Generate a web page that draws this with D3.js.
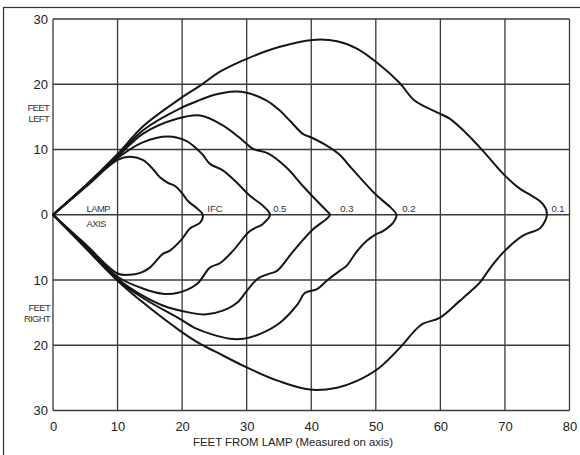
<!DOCTYPE html>
<html>
<head>
<meta charset="utf-8">
<script src="https://cdn.jsdelivr.net/npm/d3@7"></script>
<style>
  html, body { margin: 0; padding: 0; background: #fff; }
  svg { display: block; font-family: "Liberation Sans", Arial, Helvetica, sans-serif; }
</style>
</head>
<body>
<svg id="chart" width="580" height="455"></svg>
<script>
// ---- data (feet) ----
const xTicks = [0, 10, 20, 30, 40, 50, 60, 70, 80];
const yTicks = [-30, -20, -10, 0, 10, 20, 30];

// each outline: from lamp, along left side (positive), around tip, back along right side (negative)
const curveIFC = [[0,0],[5,4.2],[10,8.4],[11.9,8.9],[13.9,8.4],[15.3,7.2],[16.6,5.7],[17.8,4.9],[18.9,4.4],[20.0,3.3],[20.9,2.1],[22.4,0.9],[23.2,0],
  [22.8,-1.2],[21.2,-2.1],[20.0,-3.7],[18.1,-5.5],[17.0,-6.0],[15.0,-8.1],[13.5,-8.9],[11.9,-9.2],[10,-9.0],[5,-4.5],[0,0]];
const curve05 = [[0,0],[5,4.3],[10,8.7],[13.9,11.1],[17.8,12.0],[20.7,11.3],[23.1,9.3],[24.3,7.8],[26.3,6.8],[28.5,4.9],[30.5,2.9],[32.5,1.4],[33.6,0],
  [32.5,-1.4],[30.5,-2.5],[27.9,-5.5],[25.9,-7.4],[24.3,-8.1],[22.3,-10.6],[19.2,-12.0],[17.0,-12.1],[13.9,-11.3],[10,-9.5],[5,-4.75],[0,0]];
const curve03 = [[0,0],[5,4.35],[10,8.9],[13.9,12.4],[19.2,14.7],[22.8,15.2],[26.3,13.7],[28.9,11.8],[31.0,10.1],[33.3,9.4],[36.2,7.2],[38.7,4.4],[40.9,2.1],[42.4,0.6],[42.9,0],
  [42.4,-0.6],[40.2,-2.3],[37.2,-5.6],[34.7,-8.6],[33.3,-9.1],[31.7,-9.8],[30.0,-11.7],[28.5,-13.5],[26.3,-14.7],[23.5,-15.3],[21.2,-15.0],[17.0,-13.9],[13.9,-12.4],[10,-9.8],[5,-4.9],[0,0]];
const curve02 = [[0,0],[5,4.4],[10,9.1],[14,13.0],[19.7,16.3],[22.8,17.6],[25,18.4],[28.2,18.9],[30,18.7],[33.1,17.5],[35.1,16.0],[36.7,14.4],[38.7,12.4],[40.1,11.8],[42.4,10.6],[44.4,9.2],[46,7.4],[48,5.2],[50.2,2.9],[52.2,1.2],[53.2,0],
  [52.7,-1.2],[51.1,-2.5],[50.0,-3.0],[48.6,-4.0],[47,-5.7],[45.5,-7.8],[44.4,-8.6],[42.4,-10.1],[40.9,-11.4],[39.0,-12.0],[37.9,-13.7],[35.1,-16.6],[32,-18.3],[29.5,-19.0],[27.4,-19.0],[24.5,-18.3],[22.3,-17.5],[19.7,-16.0],[14,-12.8],[10,-10.0],[5,-5.0],[0,0]];
const curve01 = [[0,0],[5,4.45],[10,9.3],[14,13.6],[19.7,17.8],[22.8,19.8],[26,22.0],[30,23.9],[35,25.7],[40.2,26.8],[44,26.6],[47,25.5],[50.2,23.3],[53.7,20.2],[56,17.5],[59.9,15.5],[61.5,14.7],[64,12.5],[66.6,9.8],[69.7,6.3],[72.3,4.0],[74,3.0],[75.4,2.1],[76.3,1.0],[76.5,0],
  [76.2,-1.0],[75.4,-2.1],[72.8,-3.2],[70,-5.5],[68,-7.8],[66.1,-10.4],[65.3,-11.2],[63,-13.2],[59.9,-15.8],[57.3,-16.7],[56,-17.8],[54,-20.1],[50.6,-23.4],[47,-25.5],[44,-26.5],[39.8,-26.8],[35,-25.5],[30,-23.4],[25,-20.9],[22.8,-19.8],[19.7,-17.8],[14,-13.5],[10,-10.1],[5,-5.05],[0,0]];

const curves = [curveIFC, curve05, curve03, curve02, curve01];
const curveLabels = ["IFC", "0.5", "0.3", "0.2", "0.1"];
const curveLabelX = [23.9, 34.1, 44.5, 54.1, 77.2];

const sideLabelsLeft = ["FEET", "LEFT"];
const sideLabelsRight = ["FEET", "RIGHT"];
const axisLabels = ["LAMP", "AXIS"];
const xTitle = "FEET FROM LAMP (Measured on axis)";

// ---- drawing ----
const svg = d3.select("#chart");
const x = d3.scaleLinear().domain([0, 80]).range([53, 569.5]);
const y = d3.scaleLinear().domain([-30, 30]).range([410.5, 19]);

// outer frame (only top and left fall inside the picture)
svg.append("rect").attr("x", 3.5).attr("y", 7.5).attr("width", 600).attr("height", 480)
  .attr("fill", "none").attr("stroke", "#333").attr("stroke-width", 1.2);

const grid = svg.append("g").attr("stroke", "#3a3a3a").attr("stroke-width", 1.3);
grid.selectAll("line.v").data(xTicks).join("line").attr("class", "v")
  .attr("x1", d => x(d)).attr("x2", d => x(d)).attr("y1", y(30)).attr("y2", y(-30));
grid.selectAll("line.h").data(yTicks).join("line").attr("class", "h")
  .attr("y1", d => y(d)).attr("y2", d => y(d)).attr("x1", x(0)).attr("x2", x(80));

// axes (labels only)
const xAxis = d3.axisBottom(x).tickValues(xTicks).tickSize(0).tickPadding(11).tickFormat(d3.format("d"));
const gx = svg.append("g").attr("transform", `translate(0,${y(-30)})`).call(xAxis);
const yAxis = d3.axisLeft(y).tickValues(yTicks).tickSize(0).tickPadding(5).tickFormat(d => Math.abs(d));
const gy = svg.append("g").attr("transform", `translate(${x(0)},0)`).call(yAxis);
[gx, gy].forEach(g => {
  g.select(".domain").remove();
  g.selectAll("text").attr("font-size", 13).attr("fill", "#222")
    .attr("font-family", "'Liberation Sans', Arial, sans-serif");
});

// curves
const line = d3.line().x(d => x(d[0])).y(d => y(d[1])).curve(d3.curveCatmullRom.alpha(0.5));
svg.append("g").selectAll("path").data(curves).join("path")
  .attr("d", line).attr("fill", "none").attr("stroke", "#161616")
  .attr("stroke-width", 2).attr("stroke-linejoin", "round");

// curve labels
svg.append("g").selectAll("text").data(curveLabels).join("text")
  .attr("x", (d, i) => x(curveLabelX[i])).attr("y", y(0) - 3)
  .attr("font-size", 9.5).attr("fill", "#333").text(d => d);

// LAMP / AXIS
svg.append("g").selectAll("text").data(axisLabels).join("text")
  .attr("x", x(5.2)).attr("y", (d, i) => i === 0 ? y(0) - 2.5 : y(0) + 12.5)
  .attr("font-size", 9.5).attr("letter-spacing", -0.6).attr("fill", "#333").text(d => d);

// FEET LEFT / FEET RIGHT
svg.append("g").selectAll("text").data(sideLabelsLeft).join("text")
  .attr("x", 49).attr("y", (d, i) => y(15) - 5.5 + i * 11).attr("text-anchor", "end")
  .attr("font-size", 9.5).attr("letter-spacing", -0.7).attr("fill", "#333").text(d => d);
svg.append("g").selectAll("text").data(sideLabelsRight).join("text")
  .attr("x", 50).attr("y", (d, i) => y(-15) - 1.5 + i * 10.5).attr("text-anchor", "end")
  .attr("font-size", 9.5).attr("letter-spacing", -0.7).attr("fill", "#333").text(d => d);

// x title
svg.append("text").attr("x", 193).attr("y", 446)
  .attr("font-size", 11).attr("fill", "#222")
  .attr("textLength", 200).attr("lengthAdjust", "spacingAndGlyphs")
  .text(xTitle);
</script>
</body>
</html>
